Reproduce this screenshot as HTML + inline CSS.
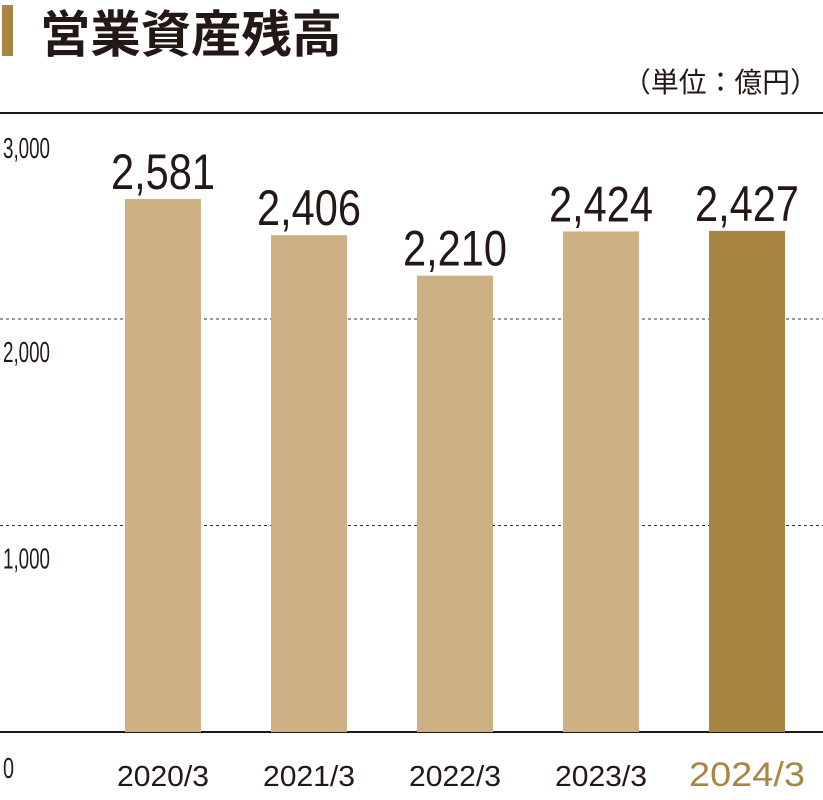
<!DOCTYPE html>
<html><head><meta charset="utf-8"><style>
html,body{margin:0;padding:0;background:#fff;}
svg{display:block;font-family:"Liberation Sans","Noto Sans CJK JP",sans-serif;}
</style></head><body>
<svg id="chart" width="823" height="800" viewBox="0 0 823 800" xmlns="http://www.w3.org/2000/svg">
<rect x="2" y="5" width="11" height="51" fill="#a98543"/>
<text x="40" y="52" font-size="50" font-weight="bold" fill="#231815" font-family="Noto Sans CJK JP, sans-serif" textLength="302" lengthAdjust="spacingAndGlyphs">営業資産残高</text>
<text x="818" y="92" font-size="28" fill="#231815" text-anchor="end" font-family="Noto Sans CJK JP, sans-serif" textLength="195" lengthAdjust="spacingAndGlyphs">（単位：億円）</text>
<line x1="0" y1="113" x2="823" y2="113" stroke="#231815" stroke-width="2"/>
<g id="grid"></g><g id="bars"></g><g id="labels"></g>
</svg>
<script>
const categories=["2020/3","2021/3","2022/3","2023/3","2024/3"];
const values=[2581,2406,2210,2424,2427];
const valueLabels=["2,581","2,406","2,210","2,424","2,427"];
const ticks=[0,1000,2000,3000];
const tickLabels=["0","1,000","2,000","3,000"];
const NS="http://www.w3.org/2000/svg";
const y0=732,scale=0.2065;
function y(v){return y0-v*scale;}
function x(i){return 125+i*146;}
const barW=76;
const grid=document.getElementById('grid'),bars=document.getElementById('bars'),labels=document.getElementById('labels');
function mk(tag,attrs,parent){const e=document.createElementNS(NS,tag);for(const k in attrs)e.setAttribute(k,attrs[k]);parent.appendChild(e);return e;}
ticks.forEach((t,i)=>{
  const yy=y(t);
  if(t>0&&t<3000){
    const l=mk('line',{x1:0,x2:823,y1:yy,y2:yy,stroke:'#333','stroke-width':1,'stroke-dasharray':'3,3'},grid);
    
    
  }
  if(t===0){
    const l=mk('line',{x1:0,x2:823,y1:yy,y2:yy,stroke:'#231815','stroke-width':2},grid);
    
    
  }
  const ty=t===0?778:(t===3000?158:yy+43);
  const tx=mk('text',{x:3,y:ty,'font-size':29,fill:'#231815',textLength:tickLabels[i].length===1?11:47,lengthAdjust:'spacingAndGlyphs'},labels);
  tx.textContent=tickLabels[i];
  
  
});
values.forEach((v,i)=>{
  const last=i===values.length-1;
  const r=mk('rect',{x:x(i),y:y(v),width:barW,height:y0-y(v),fill:last?'#a98543':'#cdb083'},bars);
  
  
  const vt=mk('text',{x:x(i)+barW/2,y:y(v)-10,'font-size':50,fill:'#231815','text-anchor':'middle',textLength:valueLabels[i].length*20.8,lengthAdjust:'spacingAndGlyphs'},labels);
  vt.textContent=valueLabels[i];
  
  
  const ct=mk('text',{x:x(i)+barW/2,y:786,'font-size':last?34:29,fill:last?'#a98543':'#231815','text-anchor':'middle',textLength:last?116:92,lengthAdjust:'spacingAndGlyphs'},labels);
  ct.textContent=categories[i];
  
  
});
</script>
</body></html>
